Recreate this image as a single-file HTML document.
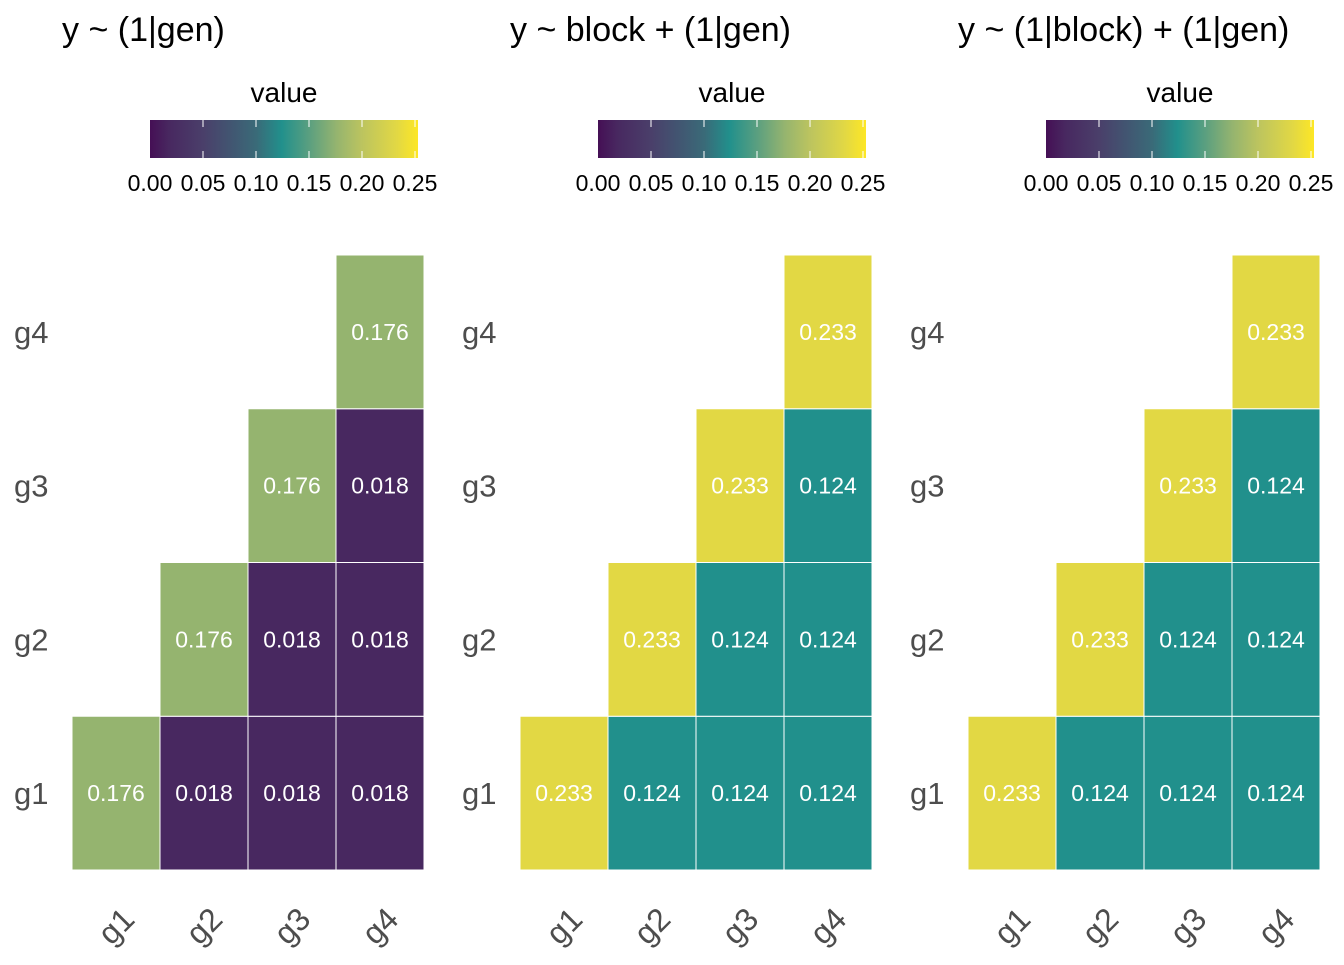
<!DOCTYPE html>
<html><head><meta charset="utf-8"><style>
body{margin:0;background:#fff;font-family:"Liberation Sans",Arial,sans-serif}
</style></head><body>
<svg id="c" width="1344" height="960" xmlns="http://www.w3.org/2000/svg">
<defs><linearGradient id="vg" x1="0" x2="1" y1="0" y2="0"></linearGradient></defs>
</svg>
<script>
const titles=["y ~ (1|gen)","y ~ block + (1|gen)","y ~ (1|block) + (1|gen)"];
const categories=["g1","g2","g3","g4"];
const panel1Diag=0.176, panel1Off=0.018;
const panel2Diag=0.233, panel2Off=0.124;
const panel3Diag=0.233, panel3Off=0.124;
const diagValues=[panel1Diag,panel2Diag,panel3Diag];
const offValues=[panel1Off,panel2Off,panel3Off];
const legendTicks=[0,0.05,0.10,0.15,0.20,0.25];
const stops=[[0,'#450f55'],[0.018,'#482860'],[0.05,'#4a3f6a'],[0.10,'#3a6a78'],[0.124,'#21908c'],[0.15,'#5a9f80'],[0.176,'#95b46f'],[0.20,'#bcc45f'],[0.233,'#e2d844'],[0.255,'#fde725']];
function hx(c){return [1,3,5].map(i=>parseInt(c.substr(i,2),16));}
function col(v){for(let i=0;i<stops.length-1;i++){const [a,ca]=stops[i],[b,cb]=stops[i+1];if(v<=b){const t=(v-a)/(b-a),A=hx(ca),B=hx(cb);return 'rgb('+A.map((x,j)=>Math.round(x+(B[j]-x)*t)).join(',')+')';}}return stops[stops.length-1][1];}
const svg=document.getElementById('c');const NS='http://www.w3.org/2000/svg';
function el(t,a,p){const e=document.createElementNS(NS,t);for(const k in a)e.setAttribute(k,a[k]);(p||svg).appendChild(e);return e;}
const g=svg.querySelector('#vg');
stops.forEach(s=>el('stop',{offset:Math.min(100,s[0]/0.2528*100)+'%','stop-color':s[1]},g));
const x0=72,cw=88,yTop=255,ch=153.75;
titles.forEach((title,p)=>{
 const off=p*448;
 const grp=el('g',{});
 
 
 const t=el('text',{x:62+off,y:41,'font-size':34,fill:'#000'},grp);t.textContent=title;
 
 const lt=el('text',{x:284+off,y:102,'font-size':28,'text-anchor':'middle',fill:'#000'},grp);lt.textContent='value';
 
 const sx=v=>150+off+v/0.05*53;
 const bar=el('rect',{x:150+off,y:120,width:268,height:38,fill:'url(#vg)'},grp);
 
 legendTicks.forEach(v=>{
  if(v>0){el('line',{x1:sx(v),x2:sx(v),y1:120,y2:127,stroke:'#fff','stroke-width':1},grp);el('line',{x1:sx(v),x2:sx(v),y1:151,y2:158,stroke:'#fff','stroke-width':1},grp);}
  const tl=el('text',{x:sx(v),y:191,'font-size':23,'text-anchor':'middle',fill:'#000'},grp);tl.textContent=v.toFixed(2);
  
 });
 const X=i=>x0+off+i*cw, Y=j=>yTop+(3-j)*ch;
 for(let i=0;i<4;i++)for(let j=0;j<=i;j++){
  const v=i===j?diagValues[p]:offValues[p];
  const r=el('rect',{x:X(i),y:Y(j),width:cw,height:ch,fill:col(v),stroke:'#fff','stroke-width':1},grp);
  
  const tx=el('text',{x:X(i)+cw/2,y:Y(j)+ch/2+8,'font-size':23,'text-anchor':'middle',fill:'#fff'},grp);tx.textContent=v.toFixed(3);
  
 }
 categories.forEach((c,j)=>{
  const yl=el('text',{x:14+off,y:Y(j)+ch/2+11,'font-size':31,fill:'#4d4d4d'},grp);yl.textContent=c;
  
  const cx=X(j)+cw/2,cy=926;
  const xl=el('text',{x:cx,y:cy+11,'font-size':32,'text-anchor':'middle',fill:'#4d4d4d',transform:`rotate(-45 ${cx} ${cy})`},grp);xl.textContent=c;
  
 });
});
</script>
</body></html>
